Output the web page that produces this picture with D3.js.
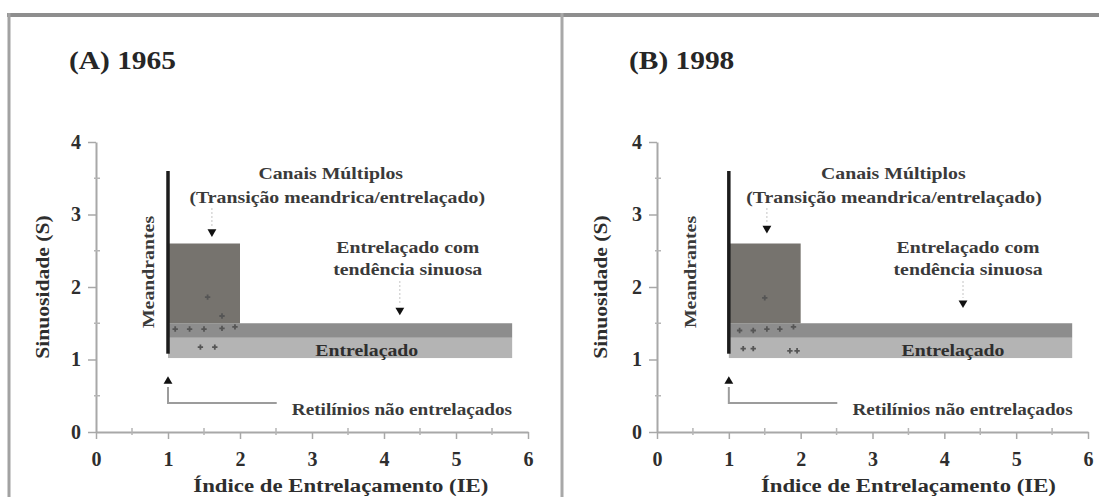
<!DOCTYPE html>
<html>
<head>
<meta charset="utf-8">
<script src="https://cdn.jsdelivr.net/npm/d3@7"></script>
<style>
  html, body { margin: 0; padding: 0; background: #fff; }
  svg { display: block; }
</style>
</head>
<body>
<svg id="chart" width="1099" height="497"></svg>
<script>
// Classificação de canais: Índice de Entrelaçamento (IE) x Sinuosidade (S)
const panelTitles = ["(A) 1965", "(B) 1998"];
const ieTicks = [0, 1, 2, 3, 4, 5, 6];
const ieMinorTicks = [0.5, 1.5, 2.5, 3.5, 4.5, 5.5];
const sTicks = [0, 1, 2, 3, 4];
const sMinorTicks = [0.5, 1.5, 2.5, 3.5];

// limites das classes: [IE mín, IE máx, S mín, S máx]
const canaisMultiplos = [1, 2, 1.5, 2.6];
const entrelacadoSinuoso = [1, 5.78, 1.3, 1.5];
const entrelacado = [1, 5.78, 1.02, 1.3];
// limite dos canais meandrantes: [IE, S mín, S máx]
const meandrantesLimite = [1, 1.08, 3.6];

// trechos medidos: [IE, S]
const trechos1965 = [[1.55, 1.86], [1.75, 1.6], [1.1, 1.42], [1.3, 1.42], [1.5, 1.42],
                     [1.75, 1.43], [1.93, 1.45], [1.45, 1.17], [1.65, 1.17]];
const trechos1998 = [[1.5, 1.85], [1.15, 1.4], [1.34, 1.4], [1.53, 1.42], [1.71, 1.42],
                     [1.9, 1.45], [1.2, 1.15], [1.34, 1.15], [1.85, 1.12], [1.95, 1.12]];
const trechos = [trechos1965, trechos1998];

const textoCanais = ["Canais Múltiplos", "(Transição meandrica/entrelaçado)"];
const textoSinuoso = ["Entrelaçado com", "tendência sinuosa"];
const textoEntrelacado = "Entrelaçado";
const textoRetilinios = "Retilínios não entrelaçados";
const textoMeandrantes = "Meandrantes";
const tituloX = "Índice de Entrelaçamento (IE)";
const tituloY = "Sinuosidade (S)";

// disposição de cada painel (pixels e posições em unidades dos eixos)
const layouts = [
  { x0: 96, x1: 528, titleX: 69, yTitleX: 49,
    meandIE: 0.72, canaisIE: [3.26, 3.35], seta1: [1.61, 2.76],
    sinuosoIE: 4.33, seta2: [4.22, 1.68], entrelIE: 3.76, xTitleIE: 3.4 },
  { x0: 657, x1: 1088, titleX: 629, yTitleX: 607,
    meandIE: 0.46, canaisIE: [3.29, 3.3], seta1: [1.53, 2.81],
    sinuosoIE: 4.33, seta2: [4.26, 1.78], entrelIE: 4.12, xTitleIE: 3.5 }
];

const FONT = "'Liberation Serif', 'Times New Roman', serif";
const SX = 1.2;   // largura extra da fonte serifada
const svg = d3.select("#chart");

svg.append("rect").attr("width", 1099).attr("height", 497).attr("fill", "#fff");

// moldura
svg.append("line").attr("x1", 7).attr("x2", 1099).attr("y1", 15).attr("y2", 15)
  .attr("stroke", "#8e8e8e").attr("stroke-width", 4);
svg.append("line").attr("x1", 9).attr("x2", 9).attr("y1", 13).attr("y2", 497)
  .attr("stroke", "#a2a2a2").attr("stroke-width", 3);
svg.append("line").attr("x1", 562).attr("x2", 562).attr("y1", 13).attr("y2", 497)
  .attr("stroke", "#a8a8a8").attr("stroke-width", 3);

function label(g, x, y, s, size, opts = {}) {
  return g.append("text")
    .attr("transform", `translate(${x},${y}) rotate(${opts.rotate || 0}) scale(${SX},1)`)
    .attr("text-anchor", opts.anchor || "middle")
    .attr("font-family", FONT)
    .attr("font-weight", "bold")
    .attr("font-size", size)
    .attr("fill", opts.fill || "#2e2e2e")
    .text(s);
}

layouts.forEach((L, i) => {
  const g = svg.append("g");
  const x = d3.scaleLinear().domain([0, 6]).range([L.x0, L.x1]);
  const y = d3.scaleLinear().domain([0, 4]).range([432, 142]);

  // título do painel
  label(g, L.titleX, 69, panelTitles[i], 24.5, { anchor: "start", fill: "#262626" });

  // classes
  const rect = (r, fill) => g.append("rect")
    .attr("x", x(r[0])).attr("width", x(r[1]) - x(r[0]))
    .attr("y", y(r[3])).attr("height", y(r[2]) - y(r[3]))
    .attr("fill", fill);
  rect(entrelacado, "#b4b4b4");
  rect(entrelacadoSinuoso, "#8d8d8d");
  rect(canaisMultiplos, "#76736e");

  // trechos
  g.selectAll("path.trecho").data(trechos[i]).join("path")
    .attr("class", "trecho")
    .attr("transform", d => `translate(${x(d[0])},${y(d[1])})`)
    .attr("d", d3.symbol().type(d3.symbolCross).size(16))
    .attr("fill", "#555");

  // limite meandrante
  g.append("line")
    .attr("x1", x(meandrantesLimite[0])).attr("x2", x(meandrantesLimite[0]))
    .attr("y1", y(meandrantesLimite[2])).attr("y2", y(meandrantesLimite[1]))
    .attr("stroke", "#1c1c1c").attr("stroke-width", 3.5);

  // eixos
  const ax = g.append("g").attr("transform", `translate(0,${y(0)})`)
    .call(d3.axisBottom(x).tickValues(ieTicks).tickSize(7).tickSizeOuter(0)
      .tickPadding(13).tickFormat(d3.format("d")));
  const ay = g.append("g").attr("transform", `translate(${x(0)},0)`)
    .call(d3.axisLeft(y).tickValues(sTicks).tickSize(8).tickSizeOuter(0)
      .tickPadding(7).tickFormat(d3.format("d")));
  [ax, ay].forEach(a => {
    a.select(".domain").attr("stroke", "#a8a8a8").attr("stroke-width", 2);
    a.selectAll(".tick line").attr("stroke", "#a8a8a8").attr("stroke-width", 1.5);
    a.selectAll(".tick text").attr("font-family", FONT).attr("font-weight", "bold")
      .attr("font-size", 20).attr("fill", "#2e2e2e");
  });
  g.selectAll("line.mx").data(ieMinorTicks).join("line").attr("class", "mx")
    .attr("x1", d => x(d)).attr("x2", d => x(d))
    .attr("y1", y(0) - 4).attr("y2", y(0) + 3)
    .attr("stroke", "#b5b5b5").attr("stroke-width", 1.5);
  g.selectAll("line.my").data(sMinorTicks).join("line").attr("class", "my")
    .attr("y1", d => y(d)).attr("y2", d => y(d))
    .attr("x1", x(0) - 2).attr("x2", x(0) + 4)
    .attr("stroke", "#b5b5b5").attr("stroke-width", 1.5);

  // títulos dos eixos
  label(g, x(L.xTitleIE), 492, tituloX, 19);
  label(g, L.yTitleX, y(2), tituloY, 18, { rotate: -90 });

  // rótulos das classes
  label(g, x(L.meandIE) + 6, 272, textoMeandrantes, 16.5, { rotate: -90, fill: "#3a3a3a" });

  label(g, x(L.canaisIE[0]), 179, textoCanais[0], 16.5, { fill: "#3a3a3a" });
  label(g, x(L.canaisIE[1]), 203, textoCanais[1], 16.5, { fill: "#3a3a3a" });
  label(g, x(L.sinuosoIE), 253, textoSinuoso[0], 16.5, { fill: "#3a3a3a" });
  label(g, x(L.sinuosoIE), 275, textoSinuoso[1], 16.5, { fill: "#3a3a3a" });
  label(g, x(L.entrelIE), 356, textoEntrelacado, 16.5, { fill: "#2e2e2e" });

  // setas indicativas
  const seta = (p, top) => {
    g.append("line").attr("x1", x(p[0])).attr("x2", x(p[0]))
      .attr("y1", top).attr("y2", y(p[1]) - 5)
      .attr("stroke", "#c4c4c4").attr("stroke-width", 1).attr("stroke-dasharray", "2,2");
    g.append("path").attr("transform", `translate(${x(p[0])},${y(p[1])}) rotate(180)`)
      .attr("d", d3.symbol().type(d3.symbolTriangle).size(34)).attr("fill", "#111");
  };
  seta(L.seta1, 208);
  seta(L.seta2, 281);

  // retilínios não entrelaçados
  g.append("path").attr("transform", `translate(${x(1)},${y(0.7)})`)
    .attr("d", d3.symbol().type(d3.symbolTriangle).size(34)).attr("fill", "#111");
  g.append("path")
    .attr("d", d3.line()([[x(1), y(0.62)], [x(1), y(0.4)], [x(2.51), y(0.4)]]))
    .attr("fill", "none").attr("stroke", "#9c9c9c").attr("stroke-width", 2);
  label(g, x(2.72), 415, textoRetilinios, 16, { anchor: "start", fill: "#3a3a3a" });
});
</script>
</body>
</html>
